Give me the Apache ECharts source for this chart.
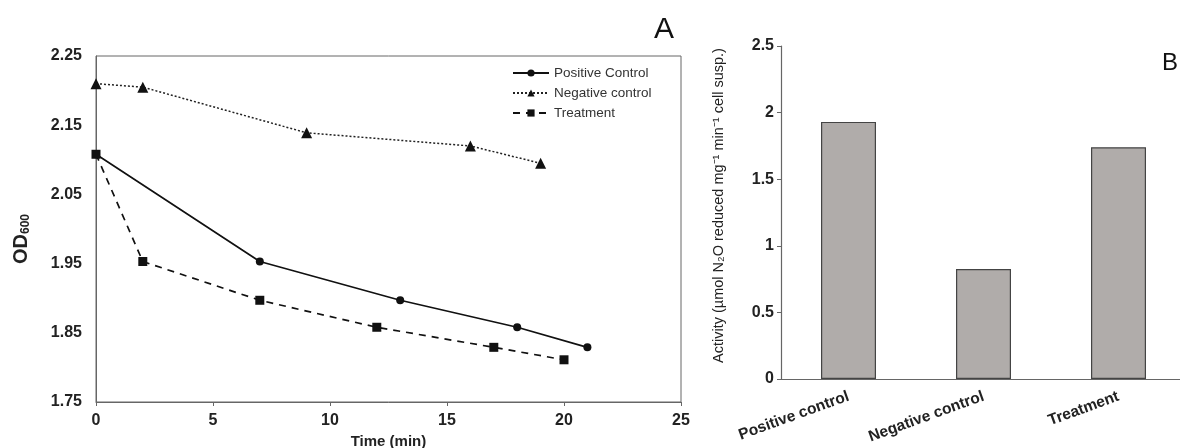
<!DOCTYPE html>
<html>
<head>
<meta charset="utf-8">
<script src="https://cdn.jsdelivr.net/npm/echarts@6/dist/echarts.min.js"></script>
<style>
html,body{margin:0;padding:0;background:#fff;}
#c{width:1180px;height:448px;}
</style>
</head>
<body>
<div id="c"></div>
<script>
// ---- Data (panel A) ----
const timePos = [0, 7, 13, 18, 21];
const posVals = [2.108, 1.953, 1.897, 1.858, 1.829];
const timeNeg = [0, 2, 9, 16, 19];
const negVals = [2.210, 2.205, 2.139, 2.120, 2.095];
const timeTrt = [0, 2, 7, 12, 17, 20];
const trtVals = [2.108, 1.953, 1.897, 1.858, 1.829, 1.811];
const seriesNames = ['Positive Control', 'Negative control', 'Treatment'];
const xTicksA = [0, 25, 5];       // min, max, interval
const yTicksA = [1.75, 2.25, 0.1];
// ---- Data (panel B) ----
const barCats = ['Positive control', 'Negative control', 'Treatment'];
const barVals = [1.93, 0.826, 1.74];
const yTicksB = [0, 2.5, 0.5];

const FONT = 'Liberation Sans, Arial, sans-serif';
const pair = (xs, ys) => xs.map((x, i) => [x, ys[i]]);

const chart = echarts.init(document.getElementById('c'), null, {renderer: 'canvas'});
chart.setOption({
  animation: false,
  backgroundColor: '#fff',
  textStyle: {fontFamily: FONT},
  title: [
    {text: 'A', left: 649, top: 10, textStyle: {fontSize: 30, fontWeight: 'normal', color: '#111', fontFamily: FONT}},
    {text: 'B', left: 1157, top: 46, textStyle: {fontSize: 24, fontWeight: 'normal', color: '#111', fontFamily: FONT}}
  ],
  legend: {
    orient: 'vertical', left: 507, top: 61, itemGap: 6, itemWidth: 36, itemHeight: 9,
    data: seriesNames,
    textStyle: {fontSize: 13.5, color: '#333', fontFamily: FONT}
  },
  grid: [
    {left: 96, top: 56, width: 585, height: 346, show: true, borderColor: '#666', borderWidth: 1,
     backgroundColor: 'transparent', containLabel: false, outerBoundsMode: 'none'},
    {left: 781, top: 46, width: 405, height: 333, containLabel: false, outerBoundsMode: 'none'}
  ],
  xAxis: [
    {
      gridIndex: 0, type: 'value', min: xTicksA[0], max: xTicksA[1], interval: xTicksA[2],
      name: 'Time (min)', nameLocation: 'middle', nameGap: 29,
      nameTextStyle: {fontSize: 15, fontWeight: 'bold', color: '#222', fontFamily: FONT},
      axisLine: {show: true, lineStyle: {color: '#666', width: 1}},
      axisTick: {show: true, length: 4, lineStyle: {color: '#666'}},
      axisLabel: {fontSize: 16, fontWeight: 'bold', color: '#222', margin: 11, fontFamily: FONT},
      splitLine: {show: false}
    },
    {
      gridIndex: 1, type: 'category', data: barCats,
      axisLine: {show: true, lineStyle: {color: '#666', width: 1.2}},
      axisTick: {show: false},
      axisLabel: {rotate: 20, fontSize: 15.5, fontWeight: 'bold', color: '#222', margin: 17, interval: 0, fontFamily: FONT},
      splitLine: {show: false}
    }
  ],
  yAxis: [
    {
      gridIndex: 0, type: 'value', min: yTicksA[0], max: yTicksA[1], interval: yTicksA[2],
      name: '{a|OD}{s|600}', nameLocation: 'middle', nameGap: 64,
      nameTextStyle: {
        padding: [0, 20, 0, 0],
        rich: {
          a: {fontSize: 20, fontWeight: 'bold', color: '#222', fontFamily: FONT},
          s: {fontSize: 12, fontWeight: 'bold', color: '#222', fontFamily: FONT, verticalAlign: 'bottom', padding: [9, 0, 0, 0]}
        }
      },
      axisLine: {show: true, lineStyle: {color: '#666', width: 1}},
      axisTick: {show: false},
      axisLabel: {fontSize: 16, fontWeight: 'bold', color: '#222', margin: 14, fontFamily: FONT,
        formatter: v => v.toFixed(2)},
      splitLine: {show: false}
    },
    {
      gridIndex: 1, type: 'value', min: yTicksB[0], max: yTicksB[1], interval: yTicksB[2],
      name: 'Activity (µmol N\u2082O reduced mg\u207B\u00B9 min\u207B\u00B9 cell susp.)',
      nameLocation: 'middle', nameGap: 55,
      nameTextStyle: {fontSize: 14.5, color: '#222', fontFamily: FONT, padding: [0, 0, 0, 14]},
      axisLine: {show: true, lineStyle: {color: '#666', width: 1.2}},
      axisTick: {show: true, length: 4, inside: false, lineStyle: {color: '#666'}},
      axisLabel: {fontSize: 16, fontWeight: 'bold', color: '#222', margin: 7, fontFamily: FONT},
      splitLine: {show: false}
    }
  ],
  series: [
    {
      name: seriesNames[0], type: 'line', xAxisIndex: 0, yAxisIndex: 0,
      data: pair(timePos, posVals),
      symbol: 'circle', symbolSize: 8,
      lineStyle: {color: '#111', width: 1.7, type: 'solid'},
      itemStyle: {color: '#111'}, z: 3
    },
    {
      name: seriesNames[1], type: 'line', xAxisIndex: 0, yAxisIndex: 0,
      data: pair(timeNeg, negVals),
      symbol: 'triangle', symbolSize: 11,
      lineStyle: {color: '#222', width: 1.5, type: [2, 2]},
      itemStyle: {color: '#111'}, z: 3
    },
    {
      name: seriesNames[2], type: 'line', xAxisIndex: 0, yAxisIndex: 0,
      data: pair(timeTrt, trtVals),
      symbol: 'rect', symbolSize: 9,
      lineStyle: {color: '#111', width: 1.7, type: [7, 6]},
      itemStyle: {color: '#111'}, z: 4
    },
    {
      name: 'Activity', type: 'bar', xAxisIndex: 1, yAxisIndex: 1,
      data: barVals, barWidth: 55,
      itemStyle: {color: '#b0acaa', borderColor: '#444', borderWidth: 1.2}
    }
  ]
});
</script>
</body>
</html>
